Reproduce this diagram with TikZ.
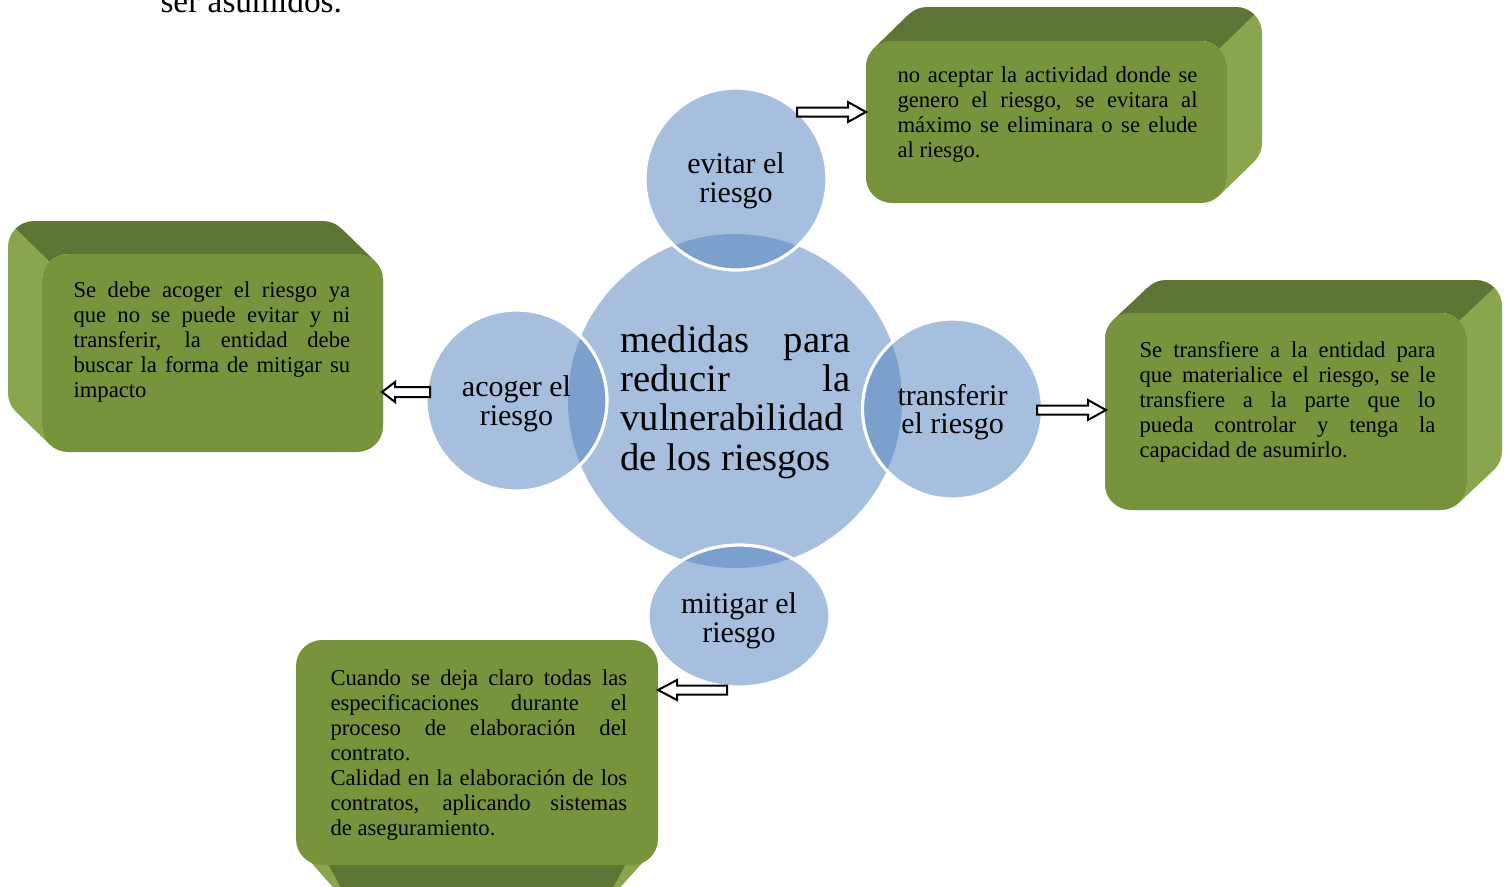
\documentclass[tikz,border=0pt]{standalone}
\usepackage{fontspec}
\setmainfont{Liberation Serif}
\sloppy

\definecolor{circlefill}{RGB}{167,191,222}
\definecolor{circledark}{RGB}{123,160,205}
\definecolor{greenfront}{RGB}{119,147,60}
\definecolor{greentop}{RGB}{94,116,52}
\definecolor{greenside}{RGB}{137,165,78}

\tikzset{every picture/.style={line width=0.75pt}}
\tikzset{
  bubble/.style={fill=circlefill},
  bubbleedge/.style={draw=white, line width=2.4pt},
  bubblelabel/.style={inner sep=0pt, align=center, font=\fontsize{22.5}{21.5}\selectfont},
  blocktext/.style={anchor=base west, inner sep=0pt, align=justify, font=\fontsize{17}{18.75}\selectfont},
  blockarrow/.style={draw=black, fill=white, line width=1.5pt, line join=miter},
}

% corner radius of the green blocks (px)
\newcommand{\brad}{26}
% 3D block: front (x1,y1)-(x2,y2), depth offset (dx,dy)
\newcommand{\greenblock}[6]{%
  \fill[greenside] (#1+\brad,#4-\brad) ++(135:\brad) arc[start angle=135,end angle=180,radius=\brad] -- (#1,#2+\brad) arc[start angle=180,end angle=225,radius=\brad] -- ++(#5,#6) arc[start angle=225,end angle=180,radius=\brad] -- (#1+#5,#4-\brad+#6) arc[start angle=180,end angle=135,radius=\brad] -- cycle;
  \fill[greenside] (#3-\brad,#2+\brad) ++(315:\brad) arc[start angle=315,end angle=360,radius=\brad] -- (#3,#4-\brad) arc[start angle=0,end angle=45,radius=\brad] -- ++(#5,#6) arc[start angle=45,end angle=0,radius=\brad] -- (#3+#5,#2+\brad+#6) arc[start angle=360,end angle=315,radius=\brad] -- cycle;
  \fill[greentop] (#1+\brad,#2+\brad) ++(225:\brad) arc[start angle=225,end angle=270,radius=\brad] -- (#3-\brad,#2) arc[start angle=270,end angle=315,radius=\brad] -- ++(#5,#6) arc[start angle=315,end angle=270,radius=\brad] -- (#1+\brad+#5,#2+#6) arc[start angle=270,end angle=225,radius=\brad] -- cycle;
  \fill[greenfront, rounded corners=19.5pt] (#1,#2) rectangle (#3,#4);
}

\begin{document}
\begin{tikzpicture}[x=0.75pt,y=0.75pt,yscale=-1,xscale=1]
\useasboundingbox (0,0) rectangle (1508,886);
\clip (0,0) rectangle (1508,886);

% Text Node (cut off page text)
\node[anchor=base west, inner sep=0pt, font=\fontsize{25}{30}\selectfont] (sertext) at (160,12) {ser asumidos.};

%Shape: 3D blocks
\greenblock{866}{41}{1227}{203}{35}{-34}
\greenblock{42}{254}{383}{452}{-34}{-33}
\greenblock{1105}{313}{1467}{510}{35}{-33}
% bottom block, depth downwards
\fill[greenside] (300,850) -- (338,893) -- (615,893) -- (654,850) -- cycle;
\fill[greentop] (326,860) -- (344,893) -- (610,893) -- (628,860) -- cycle;
\fill[greenfront, rounded corners=19.5pt] (296,640) rectangle (658,865);

%Shape: Circles
\fill[bubble] (735,401) circle (167);
\fill[bubble] (736,179) circle (91);
\fill[bubble] (516.5,400.5) circle (90.5);
\fill[bubble] (952.5,409) circle (90);
\fill[bubble] (739,616) ellipse [x radius=91, y radius=71];
% overlaps
\begin{scope}
  \clip (735,401) circle (167);
  \fill[circledark] (736,179) circle (91);
  \fill[circledark] (516.5,400.5) circle (90.5);
  \fill[circledark] (952.5,409) circle (90);
  \fill[circledark] (739,616) ellipse [x radius=91, y radius=71];
\end{scope}
\draw[bubbleedge] (736,179) circle (91);
\draw[bubbleedge] (516.5,400.5) circle (90.5);
\draw[bubbleedge] (952.5,409) circle (90);
\draw[bubbleedge] (739,616) ellipse [x radius=91, y radius=71];

% Text Node
\node[anchor=base west, inner sep=0pt, text width=172.5pt, align=justify, font=\fontsize{29}{29.6}\selectfont] (medidas) at (620,352) {medidas para\linebreak reducir la\linebreak vulnerabilidad\linebreak de los riesgos};
% Text Node
\node[bubblelabel] (evitar) at (736,181) {evitar el\\riesgo};
% Text Node
\node[bubblelabel] (acoger) at (516.5,404) {acoger el\\riesgo};
% Text Node
\node[bubblelabel] (transferir) at (952.5,412) {transferir\\el riesgo};
% Text Node
\node[bubblelabel] (mitigar) at (739,621) {mitigar el\\riesgo};

% Text Node
\node[blocktext, text width=225pt] (evitarbox) at (897,82) {no aceptar la actividad donde se\linebreak genero el riesgo, se evitara al\linebreak máximo se eliminara o se elude\linebreak al riesgo.};
% Text Node
\node[blocktext, text width=207.5pt] (acogerbox) at (73,297) {Se debe acoger el riesgo ya\linebreak que no se puede evitar y ni\linebreak transferir, la entidad debe\linebreak buscar la forma de mitigar su\linebreak impacto};
% Text Node
\node[blocktext, text width=222pt] (transferirbox) at (1139,357) {Se transfiere a la entidad para\linebreak que materialice el riesgo, se le\linebreak transfiere a la parte que lo\linebreak pueda controlar y tenga la\linebreak capacidad de asumirlo.};
% Text Node
\node[blocktext, text width=222.5pt] (mitigarbox) at (330,685) {Cuando se deja claro todas las\linebreak especificaciones durante el\linebreak proceso de elaboración del\linebreak contrato.\\Calidad en la elaboración de los\linebreak contratos, aplicando sistemas\linebreak de aseguramiento.};

%Block arrows
\coordinate (evitartip) at (866,112);
\coordinate (acogertip) at (382,392);
\coordinate (transferirtip) at (1106,410);
\coordinate (mitigartip) at (658,690);
\draw[blockarrow] (evitartip) -- ++(-18,-10) -- ++(0,5.5) -- ++(-51,0) -- ++(0,9) -- ++(51,0) -- ++(0,5.5) -- cycle;
\draw[blockarrow] (acogertip) -- ++(13,-10) -- ++(0,5) -- ++(35,0) -- ++(0,10) -- ++(-35,0) -- ++(0,5) -- cycle;
\draw[blockarrow] (transferirtip) -- ++(-18,-10) -- ++(0,5.5) -- ++(-51,0) -- ++(0,9) -- ++(51,0) -- ++(0,5.5) -- cycle;
\draw[blockarrow] (mitigartip) -- ++(19,-10) -- ++(0,5.5) -- ++(50,0) -- ++(0,9) -- ++(-50,0) -- ++(0,5.5) -- cycle;

\end{tikzpicture}
\end{document}
